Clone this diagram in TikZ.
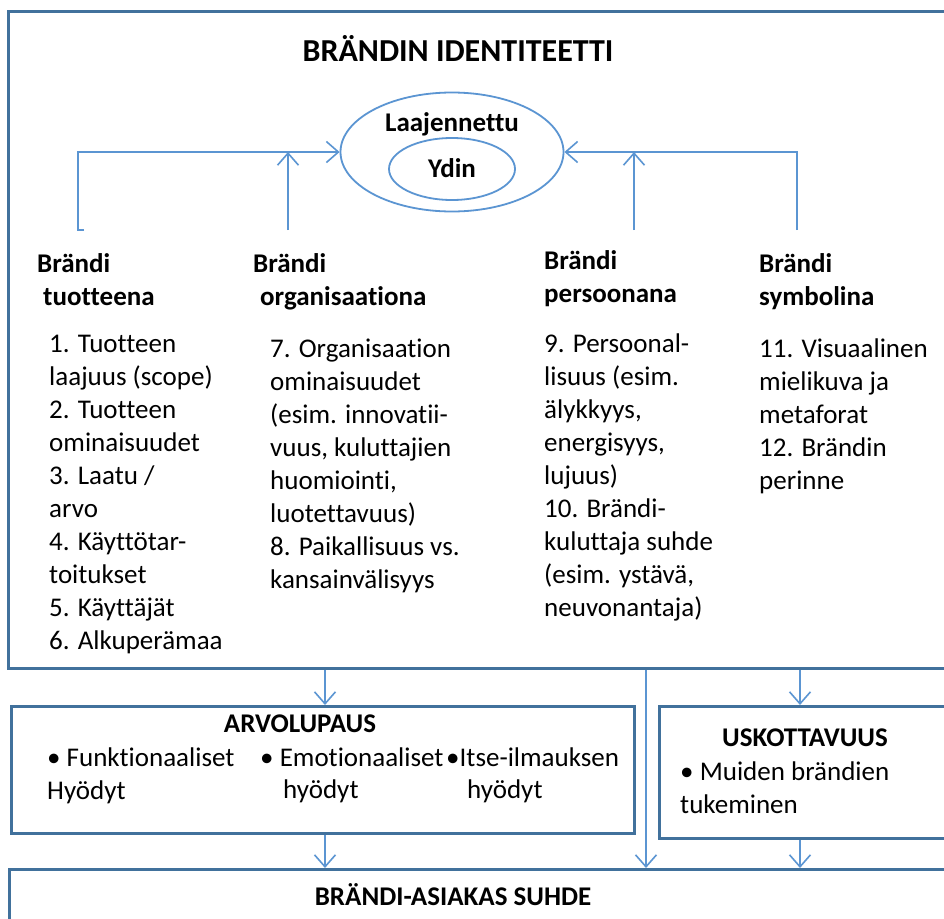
\documentclass[tikz,border=0pt]{standalone}
\usepackage{fontspec}
\setmainfont{Carlito}[Ligatures=NoCommon]
\usetikzlibrary{arrows.meta,shapes.geometric}
\definecolor{frameblue}{RGB}{65,113,156}
\definecolor{linkblue}{RGB}{91,149,210}

\begin{document}
\begin{tikzpicture}[x=1pt,y=-1pt,
  frame/.style={draw=frameblue,line width=3pt,rectangle,inner sep=0pt,anchor=north west},
  link/.style={draw=linkblue,line width=1.6pt},
  arr/.style={link,-{Straight Barb[length=12pt,width=21pt,line width=1.6pt]}},
  ring/.style={draw=linkblue,line width=1.8pt,ellipse,inner sep=0pt},
  body/.style={font=\fontsize{27}{33}\selectfont,align=left,inner sep=0pt,anchor=base west},
  head/.style={font=\bfseries\fontsize{27}{33}\selectfont,align=left,inner sep=0pt,anchor=base west},
  btitle/.style={font=\bfseries\fontsize{27}{33}\selectfont,inner sep=0pt,anchor=base},
]
\useasboundingbox (0,0) rectangle (944,918);
\clip (0,0) rectangle (944,918);
\fill[white] (0,0) rectangle (944,918);

% frames (the outer ones run past the page edge)
\node[frame,minimum width=980pt,minimum height=657pt] (identity) at (7,10) {};
\node[frame,minimum width=623pt,minimum height=127pt] (value) at (10,705) {};
\node[frame,minimum width=320pt,minimum height=132pt] (cred) at (658,705) {};
\node[frame,minimum width=980pt,minimum height=120pt] (relation) at (8,868) {};

% title and core ellipses
\node[font=\bfseries\fontsize{32}{38}\selectfont,inner sep=0pt,anchor=base] (title) at (458,61) {BRÄNDIN IDENTITEETTI};
\node[ring,minimum width=223pt,minimum height=119pt] (ext) at (452,152) {};
\node[btitle] (extlabel) at (452,131) {Laajennettu};
\node[ring,minimum width=126pt,minimum height=62pt] (core) at (452,169) {};
\node[btitle] (corelabel) at (452,177) {Ydin};

% feeders into the identity core
\coordinate (f1) at (78,230);
\coordinate (f1foot) at (84,230);
\coordinate (f2) at (288,230);
\coordinate (f3) at (634,230);
\coordinate (f4) at (797,230);
\draw[arr] (f1foot) -- (f1) |- (ext.west);
\draw[arr] (f2) -- (f2 |- ext.west);
\draw[arr] (f3) -- (f3 |- ext.east);
\draw[arr] (f4) |- (ext.east);

% column headings
\node[head] (h1) at (37,272) {Brändi};
\node[head] (h1b) at (43,305) {tuotteena};
\node[head] (h2) at (253,272) {Brändi};
\node[head] (h2b) at (260,305) {organisaationa};
\node[head] (h3) at (544,269) {Brändi};
\node[head] (h3b) at (544,302) {persoonana};
\node[head] (h4) at (759,272) {Brändi};
\node[head] (h4b) at (759,305) {symbolina};

% column contents (base anchor sits on the last line)
\node[body] (l1) at (49,649) {1. Tuotteen\\laajuus (scope)\\2. Tuotteen\\ominaisuudet\\3. Laatu /\\arvo\\4. Käyttötar-\\toitukset\\5. Käyttäjät\\6. Alkuperämaa};
\node[body] (l2) at (270,588) {7. Organisaation\\ominaisuudet\\(esim. innovatii-\\vuus, kuluttajien\\huomiointi,\\luotettavuus)\\8. Paikallisuus vs.\\kansainvälisyys};
\node[body] (l3) at (544,616) {9. Persoonal-\\lisuus (esim.\\älykkyys,\\energisyys,\\lujuus)\\10. Brändi-\\kuluttaja suhde\\(esim. ystävä,\\neuvonantaja)};
\node[body] (l4) at (759,489) {11. Visuaalinen\\mielikuva ja\\metaforat\\12. Brändin\\perinne};

% value proposition
\node[btitle] (vtitle) at (300,732) {ARVOLUPAUS};
\node[body] (v1) at (47,799) {• Funktionaaliset\\Hyödyt};
\node[body] (v2) at (260,766) {• Emotionaaliset};
\node[body] (v2b) at (283,798) {hyödyt};
\node[body] (v3) at (446,766) {•Itse-ilmauksen};
\node[body] (v3b) at (467,798) {hyödyt};

% credibility
\node[btitle] (ctitle) at (805,746) {USKOTTAVUUS};
\node[body] (c1) at (680,813) {• Muiden brändien\\tukeminen};

% relationship
\node[btitle] (rtitle) at (453,905) {BRÄNDI-ASIAKAS SUHDE};

% flows between the frames
\coordinate (xa) at (325,0);
\coordinate (xb) at (800,0);
\coordinate (xc) at (646,0);
\draw[arr] (identity.south -| xa) -- (value.north -| xa);
\draw[arr] (identity.south -| xb) -- (cred.north -| xb);
\draw[arr] (value.south -| xa) -- (relation.north -| xa);
\draw[arr] (cred.south -| xb) -- (relation.north -| xb);
\draw[arr] (identity.south -| xc) -- (relation.north -| xc);
\end{tikzpicture}
\end{document}
